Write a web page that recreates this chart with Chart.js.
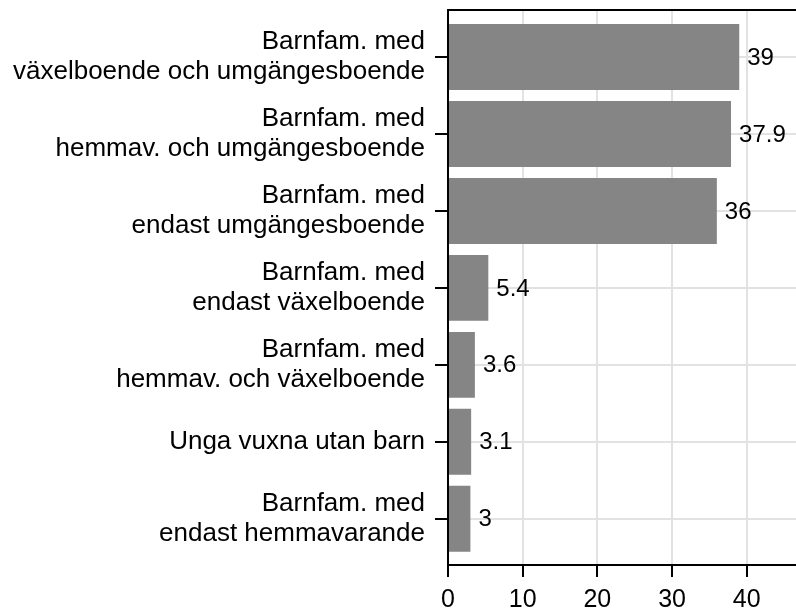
<!DOCTYPE html>
<html>
<head>
<meta charset="utf-8">
<script src="https://cdn.jsdelivr.net/npm/chart.js@4.4.1/dist/chart.umd.min.js"></script>
<style>
  html, body { margin: 0; padding: 0; background: #ffffff; }
  #wrap { width: 796px; height: 611px; position: relative; }
</style>
</head>
<body>
<div id="wrap"><canvas id="c" width="796" height="611"></canvas></div>
<script>
// ---- data ----
const categories = [
  ["Barnfam. med", "växelboende och umgängesboende"],
  ["Barnfam. med", "hemmav. och umgängesboende"],
  ["Barnfam. med", "endast umgängesboende"],
  ["Barnfam. med", "endast växelboende"],
  ["Barnfam. med", "hemmav. och växelboende"],
  ["Unga vuxna utan barn"],
  ["Barnfam. med", "endast hemmavarande"]
];
const values = [39, 37.9, 36, 5.4, 3.6, 3.1, 3];
const valueLabels = ["39", "37.9", "36", "5.4", "3.6", "3.1", "3"];
const xTickValues = [0, 10, 20, 30, 40];

const FONT = "'Liberation Sans', Arial, Helvetica, sans-serif";

const points = values.map((v, i) => ({ x: v, y: i }));

const valueLabelPlugin = {
  id: 'valueLabels',
  afterDatasetsDraw(chart) {
    const ctx = chart.ctx;
    const meta = chart.getDatasetMeta(0);
    ctx.save();
    ctx.font = "24px " + FONT;
    ctx.fillStyle = '#000000';
    ctx.textAlign = 'left';
    ctx.textBaseline = 'middle';
    meta.data.forEach((el, i) => {
      ctx.fillText(valueLabels[i], el.x + 8, el.y + 1);
    });
    ctx.restore();
  }
};

new Chart(document.getElementById('c'), {
  type: 'bar',
  data: {
    datasets: [{
      data: points,
      backgroundColor: '#858585',
      borderWidth: 0,
      barPercentage: 0.857,
      categoryPercentage: 1.0
    }]
  },
  options: {
    indexAxis: 'y',
    responsive: false,
    animation: false,
    devicePixelRatio: 1,
    layout: { padding: { top: 10, right: 0, bottom: 0, left: 0 } },
    plugins: {
      legend: { display: false },
      tooltip: { enabled: false },
      title: { display: false }
    },
    scales: {
      x: {
        type: 'linear',
        position: 'bottom',
        min: 0,
        max: 46.6,
        offset: false,
        afterBuildTicks(axis) { axis.ticks = xTickValues.map(v => ({ value: v })); },
        afterFit(axis) { axis.height = 46; axis.paddingLeft = 0; axis.paddingRight = 0; },
        grid: {
          offset: false,
          color: '#e2e2e2',
          lineWidth: 2,
          tickColor: '#000000',
          tickLength: 12,
          tickWidth: 2
        },
        border: { display: true, color: '#000000', width: 2 },
        ticks: {
          color: '#000000',
          font: { family: FONT, size: 25 },
          padding: 8,
          maxRotation: 0
        }
      },
      xTop: {
        type: 'linear',
        position: 'top',
        min: 0,
        max: 1,
        afterFit(axis) { axis.height = 0; axis.paddingLeft = 0; axis.paddingRight = 0; },
        grid: { display: false, drawTicks: false },
        border: { display: true, color: '#000000', width: 2 },
        ticks: { display: false }
      },
      y: {
        type: 'linear',
        position: 'left',
        reverse: true,
        offset: false,
        min: -0.61,
        max: 6.6,
        afterBuildTicks(axis) { axis.ticks = categories.map((_, i) => ({ value: i })); },
        afterFit(axis) { axis.width = 448; axis.paddingTop = 0; axis.paddingBottom = 0; },
        grid: {
          offset: false,
          color: '#e2e2e2',
          lineWidth: 2,
          tickColor: '#000000',
          tickLength: 13,
          tickWidth: 2
        },
        border: { display: true, color: '#000000', width: 2 },
        ticks: {
          color: '#000000',
          font: { family: FONT, size: 26, lineHeight: 1.15 },
          padding: 10,
          callback: (value) => categories[value]
        }
      }
    }
  },
  plugins: [valueLabelPlugin]
});
</script>
</body>
</html>
